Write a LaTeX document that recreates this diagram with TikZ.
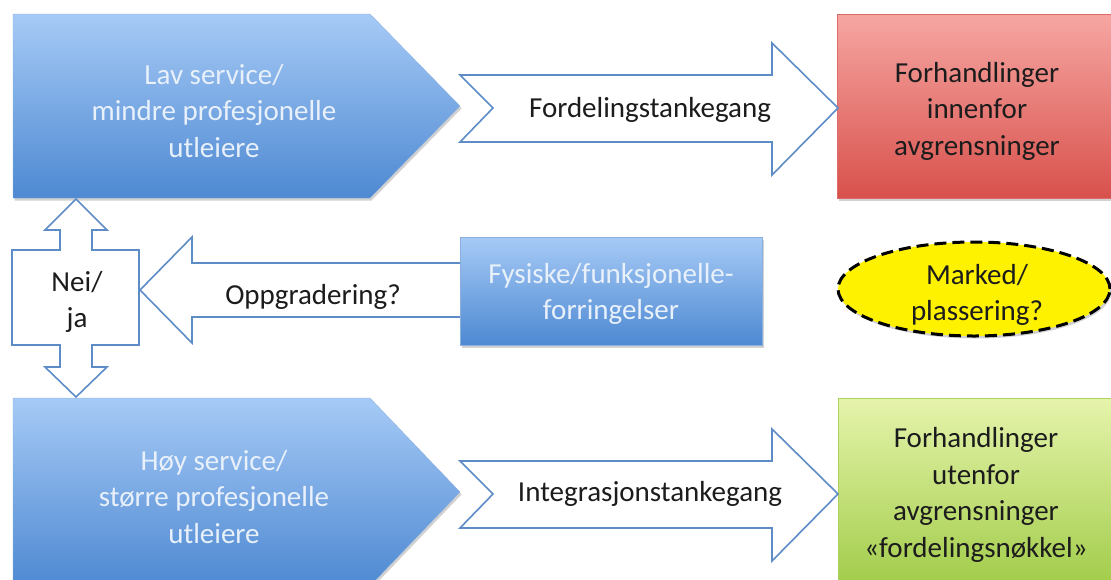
\documentclass[tikz,border=0pt]{standalone}
\usepackage{fontspec}
\setmainfont{Carlito}
\usetikzlibrary{shadows,shapes.geometric}
\definecolor{bluetop}{HTML}{A6CAF6}
\definecolor{bluebot}{HTML}{4E89D2}
\definecolor{blueline}{HTML}{8AB0E0}
\definecolor{arrowline}{HTML}{5E8CC6}
\definecolor{redtop}{HTML}{F6A6A2}
\definecolor{redbot}{HTML}{D8514C}
\definecolor{greentop}{HTML}{E6F4AC}
\definecolor{greenbot}{HTML}{9CC942}
\definecolor{txt}{HTML}{1C1C1C}
\definecolor{lighttxt}{HTML}{E8F0FA}
\begin{document}
\begin{tikzpicture}[x=1pt,y=-1pt,
  softshadow/.style={drop shadow={shadow xshift=1.5pt,shadow yshift=-2.5pt,opacity=0.18,fill=black}},
  bluefill/.style={softshadow,top color=bluetop,bottom color=bluebot,draw=blueline,line width=0.3pt},
  redfill/.style={softshadow,top color=redtop,bottom color=redbot,draw=redbot!85!white,line width=0.3pt},
  greenfill/.style={softshadow,top color=greentop,bottom color=greenbot,draw=greenbot!85!white,line width=0.3pt},
  blockarrow/.style={fill=white,draw=arrowline,line width=1.6pt,line join=miter},
  label/.style={inner sep=0pt,align=center,text=txt,font=\fontsize{29}{36.5}\selectfont},
  lightlabel/.style={label,text=lighttxt}]
\useasboundingbox (0,0) rectangle (1111,579);
\clip (0,0) rectangle (1111,579);
\fill[white] (0,0) rectangle (1111,579);

% pointed blue blocks on the left
\path[bluefill] (13,14) -- (370,14) -- (460,106) -- (370,198) -- (13,198) -- cycle;
\node[lightlabel] (lav) at (214,111) {Lav service/\\mindre profesjonelle\\utleiere};

\path[bluefill] (13,398) -- (370,398) -- (460,492) -- (370,586) -- (13,586) -- cycle;
\node[lightlabel] (hoy) at (214,497) {Høy service/\\større profesjonelle\\utleiere};

% outcome boxes on the right
\path[redfill] (837,14) rectangle (1125,198);
\node[label] (innen) at (977,111) {Forhandlinger\\innenfor\\avgrensninger};

\path[greenfill] (838,398) rectangle (1125,600);
\node[label] (uten) at (976,495) {Forhandlinger\\utenfor\\avgrensninger\\«fordelingsnøkkel»};

% notched block arrows between the rows
\path[blockarrow] (460,75) -- (772,75) -- (772,43) -- (838,108) -- (772,175) -- (772,142)
  -- (460,142) -- (493,108) -- cycle;
\node[label] (ford) at (650,110) {Fordelingstankegang};

\path[blockarrow] (460,461) -- (772,461) -- (772,429) -- (838,494) -- (772,561) -- (772,528)
  -- (460,528) -- (493,494) -- cycle;
\node[label] (integ) at (650,494) {Integrasjonstankegang};

% up/down callout between the two blue blocks
\path[blockarrow] (76,199) -- (107,230) -- (92,230) -- (92,250) -- (139,250) -- (139,345)
  -- (92,345) -- (92,367) -- (107,367) -- (76,397) -- (45,367) -- (60,367) -- (60,345)
  -- (12,345) -- (12,250) -- (60,250) -- (60,230) -- (45,230) -- cycle;
\node[label] (neija) at (77,302) {Nei/\\ja};

% left-pointing arrow from the middle box
\path[blockarrow] (140,290) -- (192,237) -- (192,263) -- (462,263) -- (462,317) -- (192,317)
  -- (192,343) -- cycle;
\node[label] (oppg) at (313,297) {Oppgradering?};

\path[bluefill] (460,237) rectangle (762,345);
\node[lightlabel] (fys) at (611,294) {Fysiske/funksjonelle-\\forringelser};

% dashed market ellipse
\node[ellipse,draw=black,fill=yellow,line width=3pt,dash pattern=on 12pt off 6pt,
  minimum width=272pt,minimum height=94pt,inner sep=0pt,softshadow] (mkt) at (974,289) {};
\node[label] (mkttxt) at (977,295) {Marked/\\plassering?};
\end{tikzpicture}
\end{document}
